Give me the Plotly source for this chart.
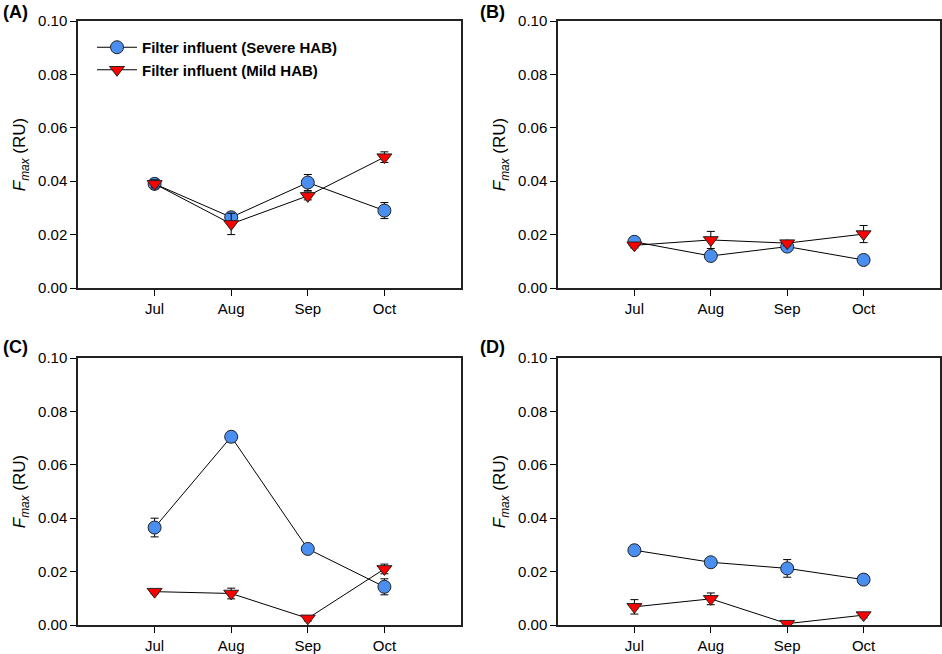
import plotly.graph_objects as go
from plotly.subplots import make_subplots

months = ["Jul", "Aug", "Sep", "Oct"]
panels = ["(A)", "(B)", "(C)", "(D)"]

# Filter influent (Severe HAB)
severe_a = [0.0390, 0.0265, 0.0395, 0.0290]
severe_a_err = [0.0015, 0.0015, 0.0030, 0.0030]
severe_b = [0.0173, 0.0120, 0.0155, 0.0105]
severe_b_err = [0.0008, 0.0008, 0.0010, 0.0015]
severe_c = [0.0365, 0.0705, 0.0285, 0.0143]
severe_c_err = [0.0035, 0.0020, 0.0015, 0.0030]
severe_d = [0.0280, 0.0235, 0.0212, 0.0170]
severe_d_err = [0.0015, 0.0012, 0.0033, 0.0010]

# Filter influent (Mild HAB)
mild_a = [0.0390, 0.0240, 0.0345, 0.0490]
mild_a_err = [0.0015, 0.0040, 0.0015, 0.0020]
mild_b = [0.0160, 0.0180, 0.0168, 0.0202]
mild_b_err = [0.0010, 0.0032, 0.0010, 0.0032]
mild_c = [0.0125, 0.0118, 0.0025, 0.0210]
mild_c_err = [0.0008, 0.0020, 0.0010, 0.0018]
mild_d = [0.0068, 0.0098, 0.0005, 0.0037]
mild_d_err = [0.0027, 0.0022, 0.0005, 0.0010]

severe = [severe_a, severe_b, severe_c, severe_d]
severe_err = [severe_a_err, severe_b_err, severe_c_err, severe_d_err]
mild = [mild_a, mild_b, mild_c, mild_d]
mild_err = [mild_a_err, mild_b_err, mild_c_err, mild_d_err]

blue = "#4a8ff0"
red = "#ff0000"
font = "Liberation Sans, Arial, sans-serif"

W, H = 942, 654
fig = make_subplots(rows=2, cols=2)

xdom = [[78 / W, 461 / W], [558 / W, 940 / W]]
ydom = [[1 - 288 / H, 1 - 21 / H], [1 - 625 / H, 1 - 358 / H]]
label_x = [1 / W, 478 / W]
label_y = [1 - 12 / H, 1 - 347 / H]

for i in range(4):
    r, c = i // 2 + 1, i % 2 + 1
    x_idx = list(range(len(months)))
    fig.add_trace(go.Scatter(
        x=x_idx, y=severe[i], mode="lines+markers",
        name="<b>Filter influent (Severe HAB)</b>", showlegend=(i == 0),
        line=dict(color="black", width=1),
        marker=dict(symbol="circle", size=13, color=blue,
                    line=dict(color="#222222", width=1)),
        error_y=dict(type="data", array=severe_err[i], color="black",
                     thickness=1, width=4)),
        row=r, col=c)
    fig.add_trace(go.Scatter(
        x=x_idx, y=mild[i], mode="lines+markers",
        name="<b>Filter influent (Mild HAB)</b>", showlegend=(i == 0),
        line=dict(color="black", width=1),
        marker=dict(symbol="triangle-down", size=13, color=red,
                    line=dict(color="#222222", width=1)),
        error_y=dict(type="data", array=mild_err[i], color="black",
                     thickness=1, width=4)),
        row=r, col=c)

    fig.update_xaxes(
        domain=xdom[c - 1], range=[-1, 4], tickmode="array",
        tickvals=x_idx, ticktext=months, ticks="outside", ticklen=6,
        tickcolor="black", showline=True, linecolor="#222222", linewidth=1.5,
        mirror=True, showgrid=False, zeroline=False, automargin=False,
        tickfont=dict(size=15, color="black", family=font),
        row=r, col=c)
    fig.update_yaxes(
        domain=ydom[r - 1], range=[0, 0.1], tickmode="array",
        tickvals=[0, 0.02, 0.04, 0.06, 0.08, 0.1],
        ticktext=["0.00", "0.02", "0.04", "0.06", "0.08", "0.10"],
        ticks="outside", ticklen=6, tickcolor="black",
        showline=True, linecolor="#222222", linewidth=1.5, mirror=True,
        showgrid=False, zeroline=False, automargin=False,
        tickfont=dict(size=15, color="black", family=font),
        title=dict(text="<i>F</i><sub><i>max</i></sub> (RU)", standoff=8,
                   font=dict(size=17, color="black", family=font)),
        row=r, col=c)

    fig.add_annotation(
        text="<b>" + panels[i] + "</b>", xref="paper", yref="paper",
        x=label_x[c - 1], y=label_y[r - 1],
        xanchor="left", yanchor="middle", showarrow=False,
        font=dict(size=18, color="black", family=font))

fig.update_layout(
    width=W, height=H,
    margin=dict(l=0, r=0, t=0, b=0),
    plot_bgcolor="white", paper_bgcolor="white",
    font=dict(family=font, color="black"),
    legend=dict(x=92 / W, y=1 - 31 / H, xanchor="left", yanchor="top",
                bgcolor="rgba(0,0,0,0)",
                font=dict(size=15, color="black", family=font),
                itemwidth=40, tracegroupgap=0),
)

fig.write_html("out.html", config={"displayModeBar": False},
               post_script="document.body.style.margin='0';")
